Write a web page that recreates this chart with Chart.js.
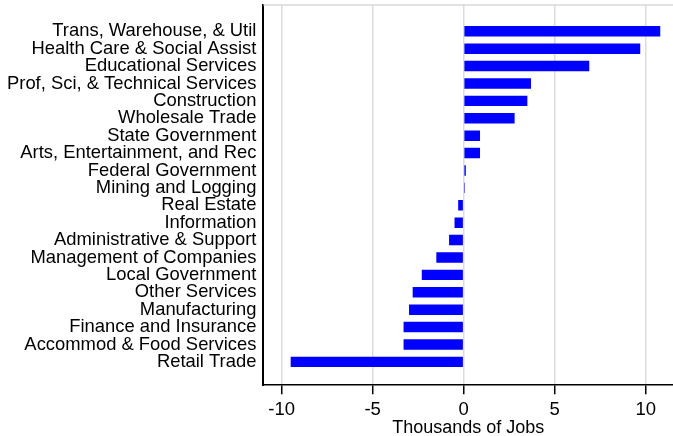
<!DOCTYPE html>
<html>
<head>
<meta charset="utf-8">
<script src="https://cdn.jsdelivr.net/npm/chart.js@4"></script>
<style>
  html, body { margin: 0; padding: 0; background: #fff; }
  #wrap { width: 673px; height: 436px; }
</style>
</head>
<body>
<div id="wrap"><canvas id="jobsChart"></canvas></div>
<script>
// Industries, top to bottom
const industries = [
  "Trans, Warehouse, & Util",
  "Health Care & Social Assist",
  "Educational Services",
  "Prof, Sci, & Technical Services",
  "Construction",
  "Wholesale Trade",
  "State Government",
  "Arts, Entertainment, and Rec",
  "Federal Government",
  "Mining and Logging",
  "Real Estate",
  "Information",
  "Administrative & Support",
  "Management of Companies",
  "Local Government",
  "Other Services",
  "Manufacturing",
  "Finance and Insurance",
  "Accommod & Food Services",
  "Retail Trade",
];

// Change in jobs, thousands
const jobChange = [
  10.8, 9.7, 6.9, 3.7, 3.5, 2.8, 0.9, 0.9, 0.12, 0.07,
  -0.3, -0.5, -0.8, -1.5, -2.3, -2.8, -3.0, -3.3, -3.3, -9.5,
];

const xTicks = [-10, -5, 0, 5, 10];

const font = "'Liberation Sans', Arial, sans-serif";

// gray line along the top of the plot region
const topLine = {
  id: "topLine",
  afterDraw(chart) {
    const { ctx, chartArea } = chart;
    ctx.save();
    ctx.strokeStyle = "#d9d9d9";
    ctx.lineWidth = 1.5;
    ctx.beginPath();
    ctx.moveTo(chartArea.left, chartArea.top);
    ctx.lineTo(chartArea.right, chartArea.top);
    ctx.stroke();
    ctx.restore();
  },
};

const ctx = document.getElementById("jobsChart").getContext("2d");
const chart = new Chart(ctx, {
  type: "bar",
  data: {
    datasets: [
      {
        data: jobChange.map((v, i) => ({ x: v, y: i })),
        backgroundColor: "#0000ff",
        borderWidth: 0,
        barPercentage: 0.6,
        categoryPercentage: 1,
      },
    ],
  },
  options: {
    indexAxis: "y",
    responsive: true,
    maintainAspectRatio: false,
    animation: false,
    layout: { padding: { top: 5, left: 0, right: 0, bottom: -3 } },
    plugins: {
      legend: { display: false },
      tooltip: { enabled: false },
    },
    scales: {
      x: {
        type: "linear",
        bounds: "data",
        min: -11,
        max: 11.5,
        afterBuildTicks: (axis) => {
          axis.ticks = xTicks.map((v) => ({ value: v }));
        },
        grid: {
          color: "#dcdcdc",
          lineWidth: 1.5,
          tickColor: "#000",
          tickLength: 9,
        },
        border: { color: "#000", width: 1.5 },
        ticks: {
          color: "#000",
          font: { family: font, size: 18.5 },
          padding: 5,
          maxRotation: 0,
        },
        title: {
          display: true,
          text: "Thousands of Jobs",
          color: "#000",
          font: { family: font, size: 18 },
          padding: { top: -9, bottom: 0 },
        },
      },
      y: {
        type: "linear",
        bounds: "data",
        offset: false,
        reverse: true,
        min: -1.51,
        max: 20.34,
        afterBuildTicks: (axis) => {
          axis.ticks = industries.map((_, i) => ({ value: i }));
        },
        // labels sit well inside the range, no extra room needed at the ends
        afterFit: (axis) => {
          axis.paddingTop = 0;
          axis.paddingBottom = 0;
        },
        grid: { display: false, drawTicks: false, offset: false },
        border: { color: "#000", width: 2 },
        ticks: {
          color: "#000",
          font: { family: font, size: 18.4 },
          padding: 7,
          autoSkip: false,
          callback: (value) => industries[value],
        },
      },
    },
  },
  plugins: [topLine],
});
</script>
</body>
</html>
